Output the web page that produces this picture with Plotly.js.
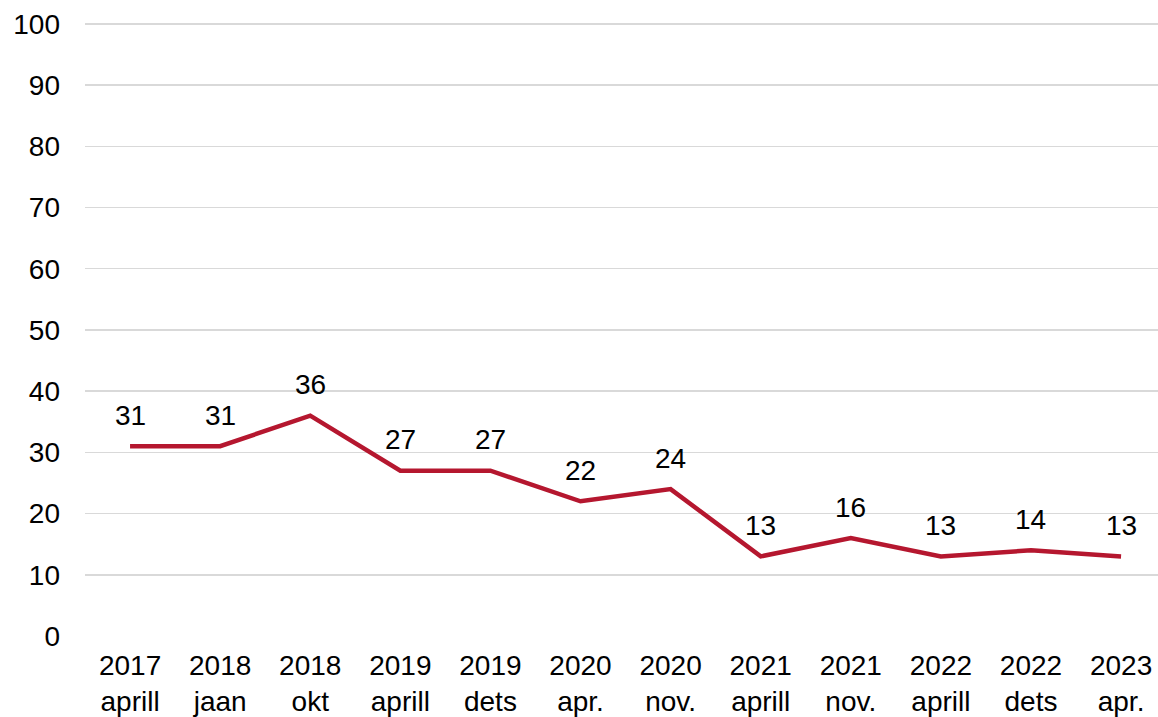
<!DOCTYPE html>
<html>
<head>
<meta charset="utf-8">
<script src="https://cdn.plot.ly/plotly-3.0.1.min.js"></script>
<style>html,body{margin:0;padding:0;background:#fff;}#chart{width:1158px;height:717px;}</style>
</head>
<body>
<div id="chart"></div>
<script>
const categories = ["2017<br>aprill","2018<br>jaan","2018<br>okt","2019<br>aprill","2019<br>dets","2020<br>apr.","2020<br>nov.","2021<br>aprill","2021<br>nov.","2022<br>aprill","2022<br>dets","2023<br>apr."];
const values = [31,31,36,27,27,22,24,13,16,13,14,13];
const yTicks = [0,10,20,30,40,50,60,70,80,90,100];

const FONT = 'Liberation Sans, Arial, sans-serif';
const xIdx = categories.map((c,i)=>i);

const trace = {
  x: xIdx,
  y: values,
  type: 'scatter',
  mode: 'lines',
  line: {color: '#b5172f', width: 4.5},
  cliponaxis: false,
  hoverinfo: 'skip'
};

const annotations = values.map((v,i)=>({
  x: i, y: v, xref: 'x', yref: 'y',
  text: String(v), showarrow: false,
  yanchor: 'middle', xanchor: 'center', yshift: 31,
  font: {family: FONT, size: 28, color: '#000'}
}));

const layout = {
  width: 1158, height: 717,
  margin: {l: 85, r: 0, t: 22, b: 81},
  paper_bgcolor: '#fff', plot_bgcolor: '#fff',
  showlegend: false,
  font: {family: FONT, size: 28, color: '#000'},
  annotations: annotations,
  xaxis: {
    range: [-0.5, 11.41],
    tickmode: 'array',
    tickvals: xIdx,
    ticktext: categories,
    showgrid: false, zeroline: false, showline: false,
    ticks: '', ticklabelstandoff: 10,
    tickfont: {size: 28}
  },
  yaxis: {
    range: [0, 100.3],
    tickmode: 'array',
    tickvals: yTicks,
    ticktext: yTicks.map(String),
    showgrid: true, gridcolor: '#d9d9d9', gridwidth: 1.5,
    zeroline: false, showline: false,
    ticks: '', ticklabelstandoff: 24,
    tickfont: {size: 28}
  }
};

Plotly.newPlot('chart', [trace], layout, {displayModeBar: false, staticPlot: true});
</script>
</body>
</html>
